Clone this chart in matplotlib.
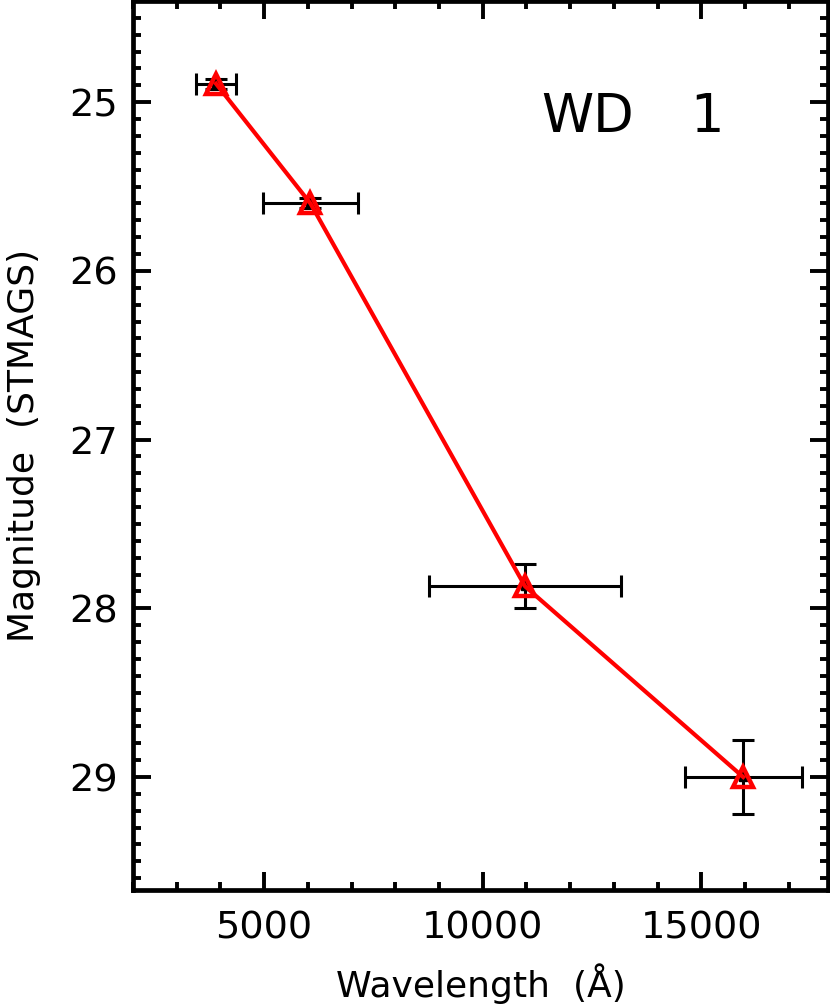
import numpy as np
import matplotlib.pyplot as plt
from matplotlib.ticker import MultipleLocator

# photometry of WD 1 (four filters)
wave = [3900, 6060, 10970, 15960]
wave_err = [455, 1085, 2200, 1340]
mag = [24.89, 25.60, 27.87, 29.00]
mag_err = [0.03, 0.03, 0.13, 0.22]

plt.rcParams['font.family'] = ['DejaVu Sans']

fig = plt.figure(figsize=(8.3, 10.05), dpi=100)
ax = fig.add_axes([0.1602, 0.1144, 0.8374, 0.8846])

ax.errorbar(wave, mag, xerr=wave_err, yerr=mag_err, fmt='s', color='black',
            ms=6, elinewidth=2.2, capsize=8, capthick=2.2, zorder=2)
ax.plot(wave, mag, color='red', lw=3, zorder=3)
ax.plot(wave, mag, linestyle='none', marker='^', ms=14, mfc='none',
        mec='red', mew=3.2, zorder=4)

ax.set_xlim(2000, 17900)
ax.set_ylim(29.67, 24.4)

ax.xaxis.set_major_locator(MultipleLocator(5000))
ax.xaxis.set_minor_locator(MultipleLocator(1000))
ax.yaxis.set_major_locator(MultipleLocator(1))
ax.yaxis.set_minor_locator(MultipleLocator(0.1))
ax.tick_params(which='both', direction='in', top=True, right=True, width=2.8,
               labelsize=27.5)
ax.tick_params(which='major', length=13)
ax.tick_params(which='minor', length=6)
ax.tick_params(axis='x', pad=15)
ax.tick_params(axis='y', pad=11)
for s in ax.spines.values():
    s.set_linewidth(3.4)

ax.set_xlabel("Wavelength  (Å)", fontsize=26, labelpad=12)
ax.set_ylabel("Magnitude  (STMAGS)", fontsize=26, labelpad=20)

# label of the star, drawn in two pieces like the original
ax.text(0.587, 0.853, "WD", transform=ax.transAxes, fontsize=38)
ax.text(0.802, 0.853, "1", transform=ax.transAxes, fontsize=38)

fig.savefig("out.png", dpi=100)
